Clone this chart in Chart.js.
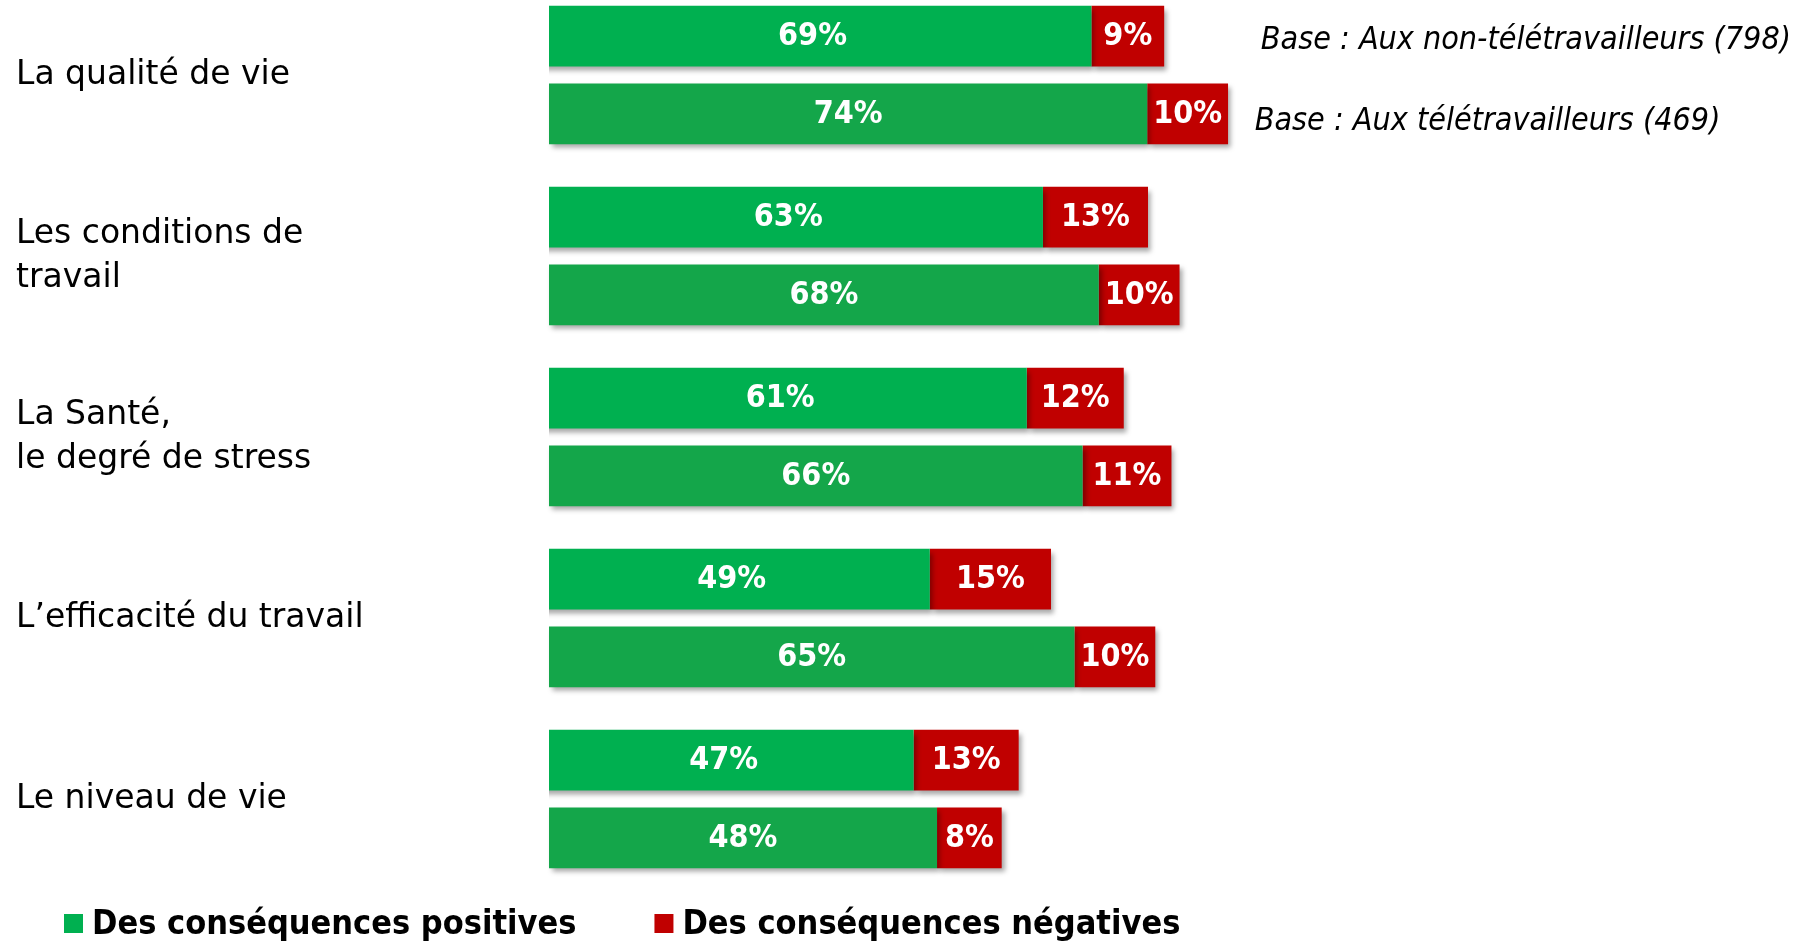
<!DOCTYPE html>
<html>
<head>
<meta charset="utf-8">
<script src="https://cdn.jsdelivr.net/npm/chart.js@4"></script>
<style>
  html, body { margin: 0; padding: 0; background: #fff; }
  #wrap { width: 1802px; height: 941px; position: relative; }
</style>
</head>
<body>
<div id="wrap"><canvas id="myChart"></canvas></div>
<script>
const categories = [
  ['La qualité de vie'],
  ['Les conditions de', 'travail'],
  ['La Santé,', 'le degré de stress'],
  ['L’efficacité du travail'],
  ['Le niveau de vie']
];
const positiveNonTele = [69, 63, 61, 49, 47];
const negativeNonTele = [9, 13, 12, 15, 13];
const positiveTele = [74, 68, 66, 65, 48];
const negativeTele = [10, 10, 11, 10, 8];
const seriesNames = ['Des conséquences positives', 'Des conséquences négatives'];
const baseNotes = ['Base : Aux non-télétravailleurs (798)', 'Base : Aux télétravailleurs (469)'];

const GREEN = '#00B050';
const GREEN2 = '#14A64A';
const RED = '#C00000';

function hasFont(name) {
  const c = document.createElement('canvas').getContext('2d');
  const s = 'abcdefghijklmnopqrstuvwxyz0123456789%';
  c.font = '40px monospace';
  const a = c.measureText(s).width;
  c.font = '40px "' + name + '", monospace';
  return c.measureText(s).width !== a;
}
const narrow = hasFont('Liberation Sans Narrow');
const valueFont = narrow ? 'bold 36px "Liberation Sans Narrow"' : 'bold 32px "DejaVu Sans Condensed", "DejaVu Sans"';
const noteFont = narrow ? 'italic 38px "Liberation Sans Narrow"' : 'italic 32px "DejaVu Sans Condensed", "DejaVu Sans"';
const legendFont = 'bold 34px "DejaVu Sans Condensed", "DejaVu Sans"';

// drop shadow under the bars
const shadowPlugin = {
  id: 'barShadow',
  beforeDatasetsDraw(chart) {
    const c = chart.ctx;
    c.save();
    c.shadowColor = 'rgba(0,0,0,0.35)';
    c.shadowBlur = 5;
    c.shadowOffsetX = 3;
    c.shadowOffsetY = 4;
  },
  afterDatasetsDraw(chart) {
    chart.ctx.restore();
  }
};

// values in the bars, base notes, legend
const textPlugin = {
  id: 'texts',
  afterDraw(chart) {
    const c = chart.ctx;
    c.save();
    c.fillStyle = '#fff';
    c.textAlign = 'center';
    c.textBaseline = 'middle';
    c.font = valueFont;
    chart.data.datasets.forEach((ds, i) => {
      const meta = chart.getDatasetMeta(i);
      meta.data.forEach((bar, j) => {
        const x = (bar.x + bar.base) / 2;
        c.fillText(ds.data[j] + '%', x, bar.y + 1);
      });
    });

    // base notes beside first row
    const xs = chart.scales.x;
    c.fillStyle = '#000';
    c.textAlign = 'left';
    c.font = noteFont;
    const y1 = chart.getDatasetMeta(1).data[0].y;
    const y2 = chart.getDatasetMeta(3).data[0].y;
    c.fillText(baseNotes[0], xs.getPixelForValue(88.05), y1 + 5);
    c.fillText(baseNotes[1], xs.getPixelForValue(87.3), y2 + 8);

    // legend
    const ly = 924;
    let lx = 64;
    c.font = legendFont;
    [0, 1].forEach(i => {
      const ds = chart.data.datasets[i];
      c.fillStyle = ds.backgroundColor;
      c.fillRect(lx, ly - 10, 19, 19);
      c.fillStyle = '#000';
      c.fillText(ds.label, lx + 28, ly + 1);
      lx += 28 + c.measureText(ds.label).width + 78;
    });
    c.restore();
  }
};

const leftClip = { left: 0, top: false, right: false, bottom: false };

const ctx = document.getElementById('myChart');
new Chart(ctx, {
  type: 'bar',
  data: {
    labels: categories,
    datasets: [
      { label: seriesNames[0], data: positiveNonTele, backgroundColor: GREEN, stack: 'non', xAxisID: 'x2', clip: leftClip },
      { label: seriesNames[1], data: negativeNonTele, backgroundColor: RED, stack: 'non', xAxisID: 'x2', clip: leftClip },
      { label: seriesNames[0], data: positiveTele, backgroundColor: GREEN2, stack: 'tele', xAxisID: 'x', clip: false },
      { label: seriesNames[1], data: negativeTele, backgroundColor: RED, stack: 'tele', xAxisID: 'x', clip: false }
    ]
  },
  options: {
    indexAxis: 'y',
    responsive: true,
    maintainAspectRatio: false,
    animation: false,
    categoryPercentage: 0.858,
    barPercentage: 0.782,
    layout: { padding: { left: 16, top: 75, bottom: 142, right: 0 } },
    plugins: {
      legend: { display: false },
      tooltip: { enabled: false }
    },
    scales: {
      x: {
        stacked: true,
        display: false,
        min: 0,
        max: 155
      },
      x2: {
        type: 'linear',
        axis: 'x',
        stacked: true,
        display: false,
        min: 1.9,
        max: 156.9
      },
      y: {
        stacked: true,
        offset: false,
        grid: { display: false },
        border: { display: false },
        afterFit(scale) { scale.width = 533; },
        ticks: {
          crossAlign: 'far',
          padding: 0,
          color: '#000',
          font: { family: '"DejaVu Sans", sans-serif', size: 33, lineHeight: 1.33 }
        }
      }
    }
  },
  plugins: [shadowPlugin, textPlugin]
});
</script>
</body>
</html>
